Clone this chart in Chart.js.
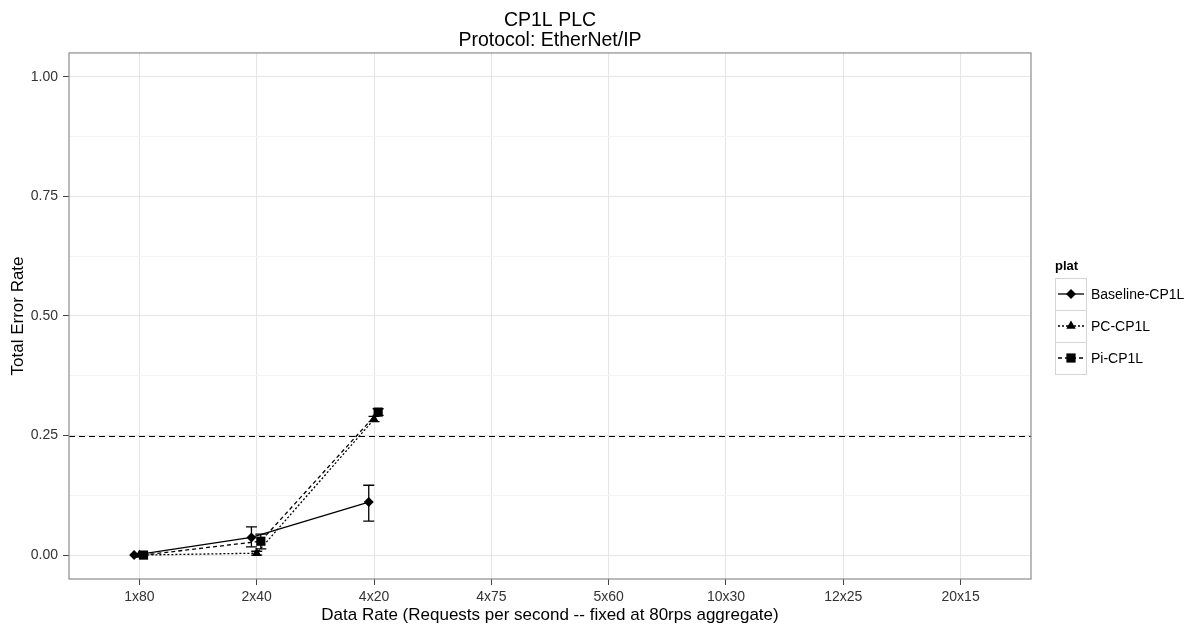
<!DOCTYPE html>
<html>
<head>
<meta charset="utf-8">
<title>CP1L PLC - EtherNet/IP</title>
<script src="https://cdn.jsdelivr.net/npm/chart.js@4.4.1/dist/chart.umd.min.js"></script>
<style>
  html, body { margin: 0; padding: 0; background: #fff; }
  #wrap { width: 1197px; height: 628px; }
</style>
</head>
<body>
<div id="wrap"><canvas id="chart" width="1197" height="628"></canvas></div>
<script>
// Data
const categories = ['1x80', '2x40', '4x20', '4x75', '5x60', '10x30', '12x25', '20x15'];
const yTicks = [0, 0.25, 0.5, 0.75, 1.0];
const threshold = 0.25;

const seriesNames = ['Baseline-CP1L', 'PC-CP1L', 'Pi-CP1L'];
const baselineRate = [0.000, 0.037, 0.111, null, null, null, null, null];
const baselineLow  = [0.000, 0.017, 0.071, null, null, null, null, null];
const baselineHigh = [0.000, 0.059, 0.146, null, null, null, null, null];

const pcRate = [0.000, 0.004, 0.284, null, null, null, null, null];
const pcLow  = [0.000, 0.000, 0.279, null, null, null, null, null];
const pcHigh = [0.000, 0.008, 0.290, null, null, null, null, null];

const piRate = [0.000, 0.029, 0.299, null, null, null, null, null];
const piLow  = [0.000, 0.013, 0.292, null, null, null, null, null];
const piHigh = [0.000, 0.044, 0.306, null, null, null, null, null];

// horizontal dodge of the three series (category units)
const dodge = [-0.045, 0, 0.035];

const FONT = '"Liberation Sans", Arial, sans-serif';

function toPoints(values, shift) {
    return values.map((v, i) => ({ x: i + shift, y: v }));
}

function makeSeries(idx, values, low, high, dash, pointStyle, radius) {
    return {
        label: seriesNames[idx],
        data: toPoints(values, dodge[idx]),
        errLow: low,
        errHigh: high,
        shift: dodge[idx],
        borderColor: '#000',
        backgroundColor: '#000',
        borderWidth: 1.3,
        borderDash: dash,
        pointStyle: pointStyle,
        pointRadius: radius,
        pointHoverRadius: radius,
        pointBorderWidth: 0,
        pointBackgroundColor: '#000',
        tension: 0,
        spanGaps: false
    };
}

const datasets = [
    makeSeries(0, baselineRate, baselineLow, baselineHigh, [], 'rectRot', 5),
    makeSeries(1, pcRate, pcLow, pcHigh, [2, 2], 'triangle', 5.5),
    makeSeries(2, piRate, piLow, piHigh, [4, 3], 'rect', 6.5)
];

// Panel border, threshold line and error bars
const panelPlugin = {
    id: 'panel',
    beforeDatasetsDraw(chart) {
        const { ctx, chartArea: a, scales: { y } } = chart;
        const yy = Math.round(y.getPixelForValue(threshold)) + 0.5;
        ctx.save();
        ctx.strokeStyle = '#000';
        ctx.lineWidth = 1.2;
        ctx.setLineDash([6, 4]);
        ctx.beginPath();
        ctx.moveTo(a.left, yy);
        ctx.lineTo(a.right, yy);
        ctx.stroke();
        ctx.restore();
    },
    afterDatasetsDraw(chart) {
        const { ctx, chartArea: a, scales: { x, y } } = chart;
        ctx.save();
        ctx.strokeStyle = '#000';
        ctx.lineWidth = 1.3;
        ctx.setLineDash([]);
        chart.data.datasets.forEach(ds => {
            ds.errLow.forEach((lo, i) => {
                const hi = ds.errHigh[i];
                if (lo === null || hi === null || hi - lo < 0.001) return;
                const px = x.getPixelForValue(i + ds.shift);
                const y1 = y.getPixelForValue(lo);
                const y2 = y.getPixelForValue(hi);
                ctx.beginPath();
                ctx.moveTo(px, y1); ctx.lineTo(px, y2);
                ctx.moveTo(px - 5.5, y1); ctx.lineTo(px + 5.5, y1);
                ctx.moveTo(px - 5.5, y2); ctx.lineTo(px + 5.5, y2);
                ctx.stroke();
            });
        });
        ctx.strokeStyle = '#8c8c8c';
        ctx.lineWidth = 1.2;
        ctx.strokeRect(a.left, a.top, a.right - a.left, a.bottom - a.top);
        ctx.restore();
    }
};

// ggplot-style legend on the right
const keyLegendPlugin = {
    id: 'keyLegend',
    afterDraw(chart) {
        const ctx = chart.ctx;
        const left = 1055, top = 278, size = 32;
        ctx.save();
        ctx.fillStyle = '#000';
        ctx.font = 'bold 13px ' + FONT;
        ctx.textAlign = 'left';
        ctx.textBaseline = 'middle';
        ctx.fillText('plat', left, 266);
        chart.data.datasets.forEach((ds, i) => {
            const ky = top + i * size;
            ctx.fillStyle = '#fff';
            ctx.fillRect(left, ky, size, size);
            ctx.strokeStyle = '#d4d4d4';
            ctx.lineWidth = 1;
            ctx.setLineDash([]);
            ctx.strokeRect(left + 0.5, ky + 0.5, size - 1, size);
            const cy = ky + size / 2;
            ctx.strokeStyle = '#000';
            ctx.lineWidth = 1.3;
            ctx.setLineDash(ds.borderDash);
            ctx.beginPath();
            ctx.moveTo(left + 3, cy);
            ctx.lineTo(left + size - 3, cy);
            ctx.stroke();
            ctx.setLineDash([]);
            ctx.fillStyle = '#000';
            Chart.helpers.drawPoint(ctx, {
                pointStyle: ds.pointStyle,
                radius: ds.pointRadius,
                rotation: 0,
                borderWidth: 0
            }, left + size / 2, cy);
            ctx.fillStyle = '#000';
            ctx.font = '14px ' + FONT;
            ctx.fillText(ds.label, left + size + 4, cy + 1);
        });
        ctx.restore();
    }
};

new Chart(document.getElementById('chart'), {
    type: 'line',
    data: { datasets: datasets },
    plugins: [panelPlugin, keyLegendPlugin],
    options: {
        responsive: false,
        animation: false,
        events: [],
        layout: { padding: { left: 0, right: 166, top: 0, bottom: 0 } },
        plugins: {
            legend: { display: false },
            tooltip: { enabled: false },
            title: {
                display: true,
                fullSize: false,
                text: ['CP1L PLC', 'Protocol: EtherNet/IP'],
                color: '#000',
                font: { family: FONT, size: 19.5, weight: 'normal', lineHeight: 1.05 },
                padding: { top: 10, bottom: 2 }
            }
        },
        scales: {
            x: {
                type: 'linear',
                min: -0.6,
                max: categories.length - 0.4,
                afterBuildTicks(scale) {
                    scale.ticks = categories.map((c, i) => ({ value: i }));
                },
                afterFit(scale) { scale.height = 49; },
                ticks: {
                    autoSkip: false,
                    maxRotation: 0,
                    padding: 4,
                    color: '#333',
                    font: { family: FONT, size: 14 },
                    callback: v => categories[v]
                },
                grid: { color: '#e5e5e5', lineWidth: 1, tickLength: 6, tickColor: '#444' },
                border: { display: false },
                title: {
                    display: true,
                    text: 'Data Rate (Requests per second -- fixed at 80rps aggregate)',
                    color: '#000',
                    font: { family: FONT, size: 17 },
                    padding: { top: 0, bottom: 2 }
                }
            },
            y: {
                min: -0.05,
                max: 1.05,
                afterBuildTicks(scale) {
                    const t = [];
                    yTicks.forEach((v, i) => {
                        t.push({ value: v, major: true });
                        if (i < yTicks.length - 1) t.push({ value: (v + yTicks[i + 1]) / 2, minor: true });
                    });
                    scale.ticks = t;
                },
                afterFit(scale) { scale.width = 69; },
                ticks: {
                    autoSkip: false,
                    padding: 5,
                    color: '#333',
                    font: { family: FONT, size: 14 },
                    callback: v => (yTicks.includes(v) ? v.toFixed(2) : '')
                },
                grid: {
                    color: c => (yTicks.includes(c.tick.value) ? '#e5e5e5' : '#f4f4f4'),
                    tickColor: c => (yTicks.includes(c.tick.value) ? '#444' : 'rgba(0,0,0,0)'),
                    lineWidth: 1,
                    tickLength: 6
                },
                border: { display: false },
                title: {
                    display: true,
                    text: 'Total Error Rate',
                    color: '#000',
                    font: { family: FONT, size: 17 },
                    padding: { top: 8, bottom: 0 }
                }
            }
        }
    }
});
</script>
</body>
</html>
